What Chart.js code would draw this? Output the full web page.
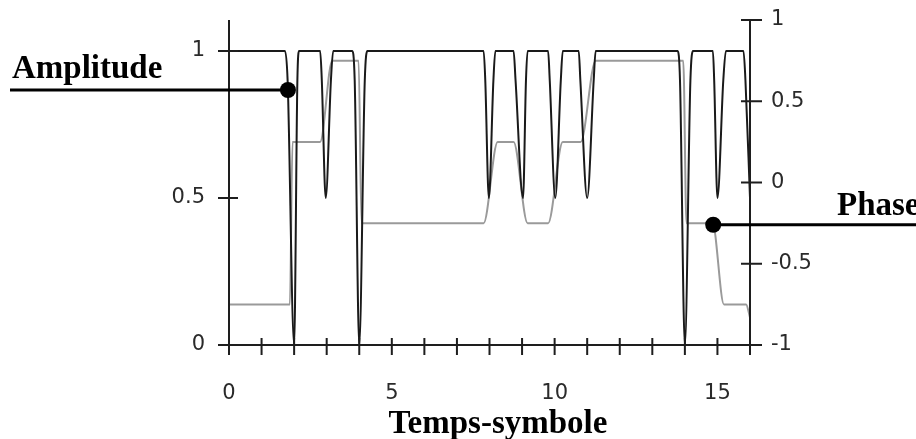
<!DOCTYPE html>
<html>
<head>
<meta charset="utf-8">
<script src="https://cdn.jsdelivr.net/npm/chart.js@4.4.0/dist/chart.umd.min.js"></script>
<style>
  html, body { margin: 0; padding: 0; background: #fff; }
</style>
</head>
<body>
<canvas id="chart" width="916" height="439"></canvas>
<script>
// tick labels
var xLabelTicks = [0, 5, 10, 15];
var xMinorTicks = [0, 1, 2, 3, 4, 5, 6, 7, 8, 9, 10, 11, 12, 13, 14, 15, 16];
var ampTicks = [0, 0.5, 1];
var phaseTicks = [-1, -0.5, 0, 0.5, 1];

// amplitude (left axis)
var ampTime = [0, 1.72, 1.8, 2.0, 2.1, 2.15,
    2.8, 2.85, 2.97, 3.13, 3.2,
    3.78, 3.86, 4.0, 4.17, 4.25,
    7.82, 7.87, 7.98, 8.12, 8.18,
    8.74, 8.8, 9.03, 9.12, 9.17,
    9.8, 9.85, 10.02, 10.19, 10.25,
    10.74, 10.79, 11.0, 11.2, 11.26,
    13.78, 13.85, 14.0, 14.17, 14.25,
    14.86, 14.9, 15.0, 15.18, 15.26,
    15.8, 15.86, 16];
var ampValue = [1, 1, 0.9, 0, 0.9, 1,
    1, 0.9, 0.5, 0.9, 1,
    1, 0.9, 0, 0.9, 1,
    1, 0.9, 0.5, 0.9, 1,
    1, 0.9, 0.5, 0.9, 1,
    1, 0.9, 0.5, 0.9, 1,
    1, 0.9, 0.5, 0.9, 1,
    1, 0.9, 0, 0.9, 1,
    1, 0.9, 0.5, 0.9, 1,
    1, 0.9, 0.5];

// phase (right axis)
var phaseTime = [0, 1.87, 1.95, 2.8, 3.17, 3.98, 4.07, 7.82, 8.25, 8.74, 9.17, 9.8, 10.25, 10.8, 11.26, 13.95, 14.05, 14.85, 15.2, 15.88, 16];
var phaseValue = [-0.75, -0.75, 0.25, 0.25, 0.75, 0.75, -0.25, -0.25, 0.25, 0.25, -0.25, -0.25, 0.25, 0.25, 0.75, 0.75, -0.25, -0.25, -0.75, -0.75, -0.83];

// callout markers
var ampMarker = [1.81, 0.867];
var phaseMarker = [14.87, -0.26];

function toPoints(xs, ys) {
    var pts = [];
    for (var i = 0; i < xs.length; i++) pts.push({x: xs[i], y: ys[i]});
    return pts;
}

function plainNumber(v) { return String(v); }

// no extra room for half labels at the ends of the axes
function noEndPadding(s) {
    s.paddingTop = 0;
    s.paddingBottom = 0;
    s.paddingLeft = 0;
    s.paddingRight = 0;
}

var tickFont = {family: 'DejaVu Sans', size: 21};
var tickColor = '#2a2a2a';
var axisColor = '#1e1e1e';

// draws the crossing axes/ticks and the text callouts
var calloutPlugin = {
    id: 'callouts',
    afterDraw: function (chart) {
        var ctx = chart.ctx;
        var xs = chart.scales.x, ys = chart.scales.y, ys2 = chart.scales.y2;
        var area = chart.chartArea;
        ctx.save();
        ctx.strokeStyle = axisColor;
        ctx.lineWidth = 2;
        ctx.beginPath();
        // bottom axis
        var by = ys.getPixelForValue(0);
        ctx.moveTo(xs.getPixelForValue(0) - 11, by);
        ctx.lineTo(xs.getPixelForValue(16) + 12, by);
        xMinorTicks.forEach(function (v) {
            var px = xs.getPixelForValue(v);
            ctx.moveTo(px, by - 7);
            ctx.lineTo(px, by + 10);
        });
        // left axis
        var lx = area.left;
        ctx.moveTo(lx, area.top);
        ctx.lineTo(lx, area.bottom);
        ampTicks.forEach(function (v) {
            var py = ys.getPixelForValue(v);
            ctx.moveTo(lx - 11, py);
            ctx.lineTo(lx + 9, py);
        });
        // right axis
        var rx = area.right;
        ctx.moveTo(rx, area.top);
        ctx.lineTo(rx, area.bottom);
        phaseTicks.forEach(function (v) {
            var py = ys2.getPixelForValue(v);
            ctx.moveTo(rx - 9, py);
            ctx.lineTo(rx + 12, py);
        });
        ctx.stroke();

        // leader lines to the markers
        var am = chart.getDatasetMeta(0).data[0];
        var pm = chart.getDatasetMeta(1).data[0];
        ctx.strokeStyle = '#000';
        ctx.lineWidth = 3;
        ctx.beginPath();
        ctx.moveTo(10, am.y);
        ctx.lineTo(am.x, am.y);
        ctx.moveTo(pm.x, pm.y);
        ctx.lineTo(chart.width, pm.y);
        ctx.stroke();

        ctx.fillStyle = '#000';
        ctx.font = 'bold 33px "Liberation Serif"';
        ctx.textBaseline = 'alphabetic';
        ctx.textAlign = 'left';
        ctx.fillText('Amplitude', 12, 78);
        ctx.fillText('Phase', 837, 215);
        ctx.textAlign = 'center';
        ctx.fillText('Temps-symbole', 498, 433);
        ctx.restore();
    }
};

var chart = new Chart(document.getElementById('chart').getContext('2d'), {
    type: 'line',
    data: {
        datasets: [
            {
                label: 'ampMarker', data: [{x: ampMarker[0], y: ampMarker[1]}], yAxisID: 'y',
                showLine: false, pointRadius: 8, pointBackgroundColor: '#000', pointBorderWidth: 0
            },
            {
                label: 'phaseMarker', data: [{x: phaseMarker[0], y: phaseMarker[1]}], yAxisID: 'y2',
                showLine: false, pointRadius: 8, pointBackgroundColor: '#000', pointBorderWidth: 0
            },
            {
                label: 'Amplitude', data: toPoints(ampTime, ampValue), yAxisID: 'y',
                borderColor: '#1a1a1a', borderWidth: 2, pointRadius: 0,
                cubicInterpolationMode: 'monotone', fill: false
            },
            {
                label: 'Phase', data: toPoints(phaseTime, phaseValue), yAxisID: 'y2',
                borderColor: '#9a9a9a', borderWidth: 2, pointRadius: 0,
                cubicInterpolationMode: 'monotone', fill: false
            }
        ]
    },
    options: {
        responsive: false,
        animation: false,
        devicePixelRatio: 1,
        layout: {padding: {top: 20, left: 0, right: 0, bottom: 0}},
        plugins: {legend: {display: false}, tooltip: {enabled: false}},
        scales: {
            x: {
                type: 'linear', min: 0, max: 16,
                grid: {display: false}, border: {display: false},
                afterBuildTicks: function (s) { s.ticks = xLabelTicks.map(function (v) { return {value: v}; }); },
                afterFit: function (s) { s.height = 94; noEndPadding(s); },
                ticks: {font: tickFont, color: tickColor, padding: 28, maxRotation: 0, callback: plainNumber}
            },
            y: {
                position: 'left', min: 0, max: 1.105,
                grid: {display: false}, border: {display: false},
                afterBuildTicks: function (s) { s.ticks = ampTicks.map(function (v) { return {value: v}; }); },
                afterFit: function (s) { s.width = 229; noEndPadding(s); },
                ticks: {font: tickFont, color: tickColor, padding: 16, callback: plainNumber}
            },
            y2: {
                position: 'right', min: -1, max: 1,
                grid: {display: false}, border: {display: false},
                afterBuildTicks: function (s) { s.ticks = phaseTicks.map(function (v) { return {value: v}; }); },
                afterFit: function (s) { s.width = 166; noEndPadding(s); },
                ticks: {font: tickFont, color: tickColor, padding: 13, callback: plainNumber}
            }
        }
    },
    plugins: [calloutPlugin]
});
</script>
</body>
</html>
